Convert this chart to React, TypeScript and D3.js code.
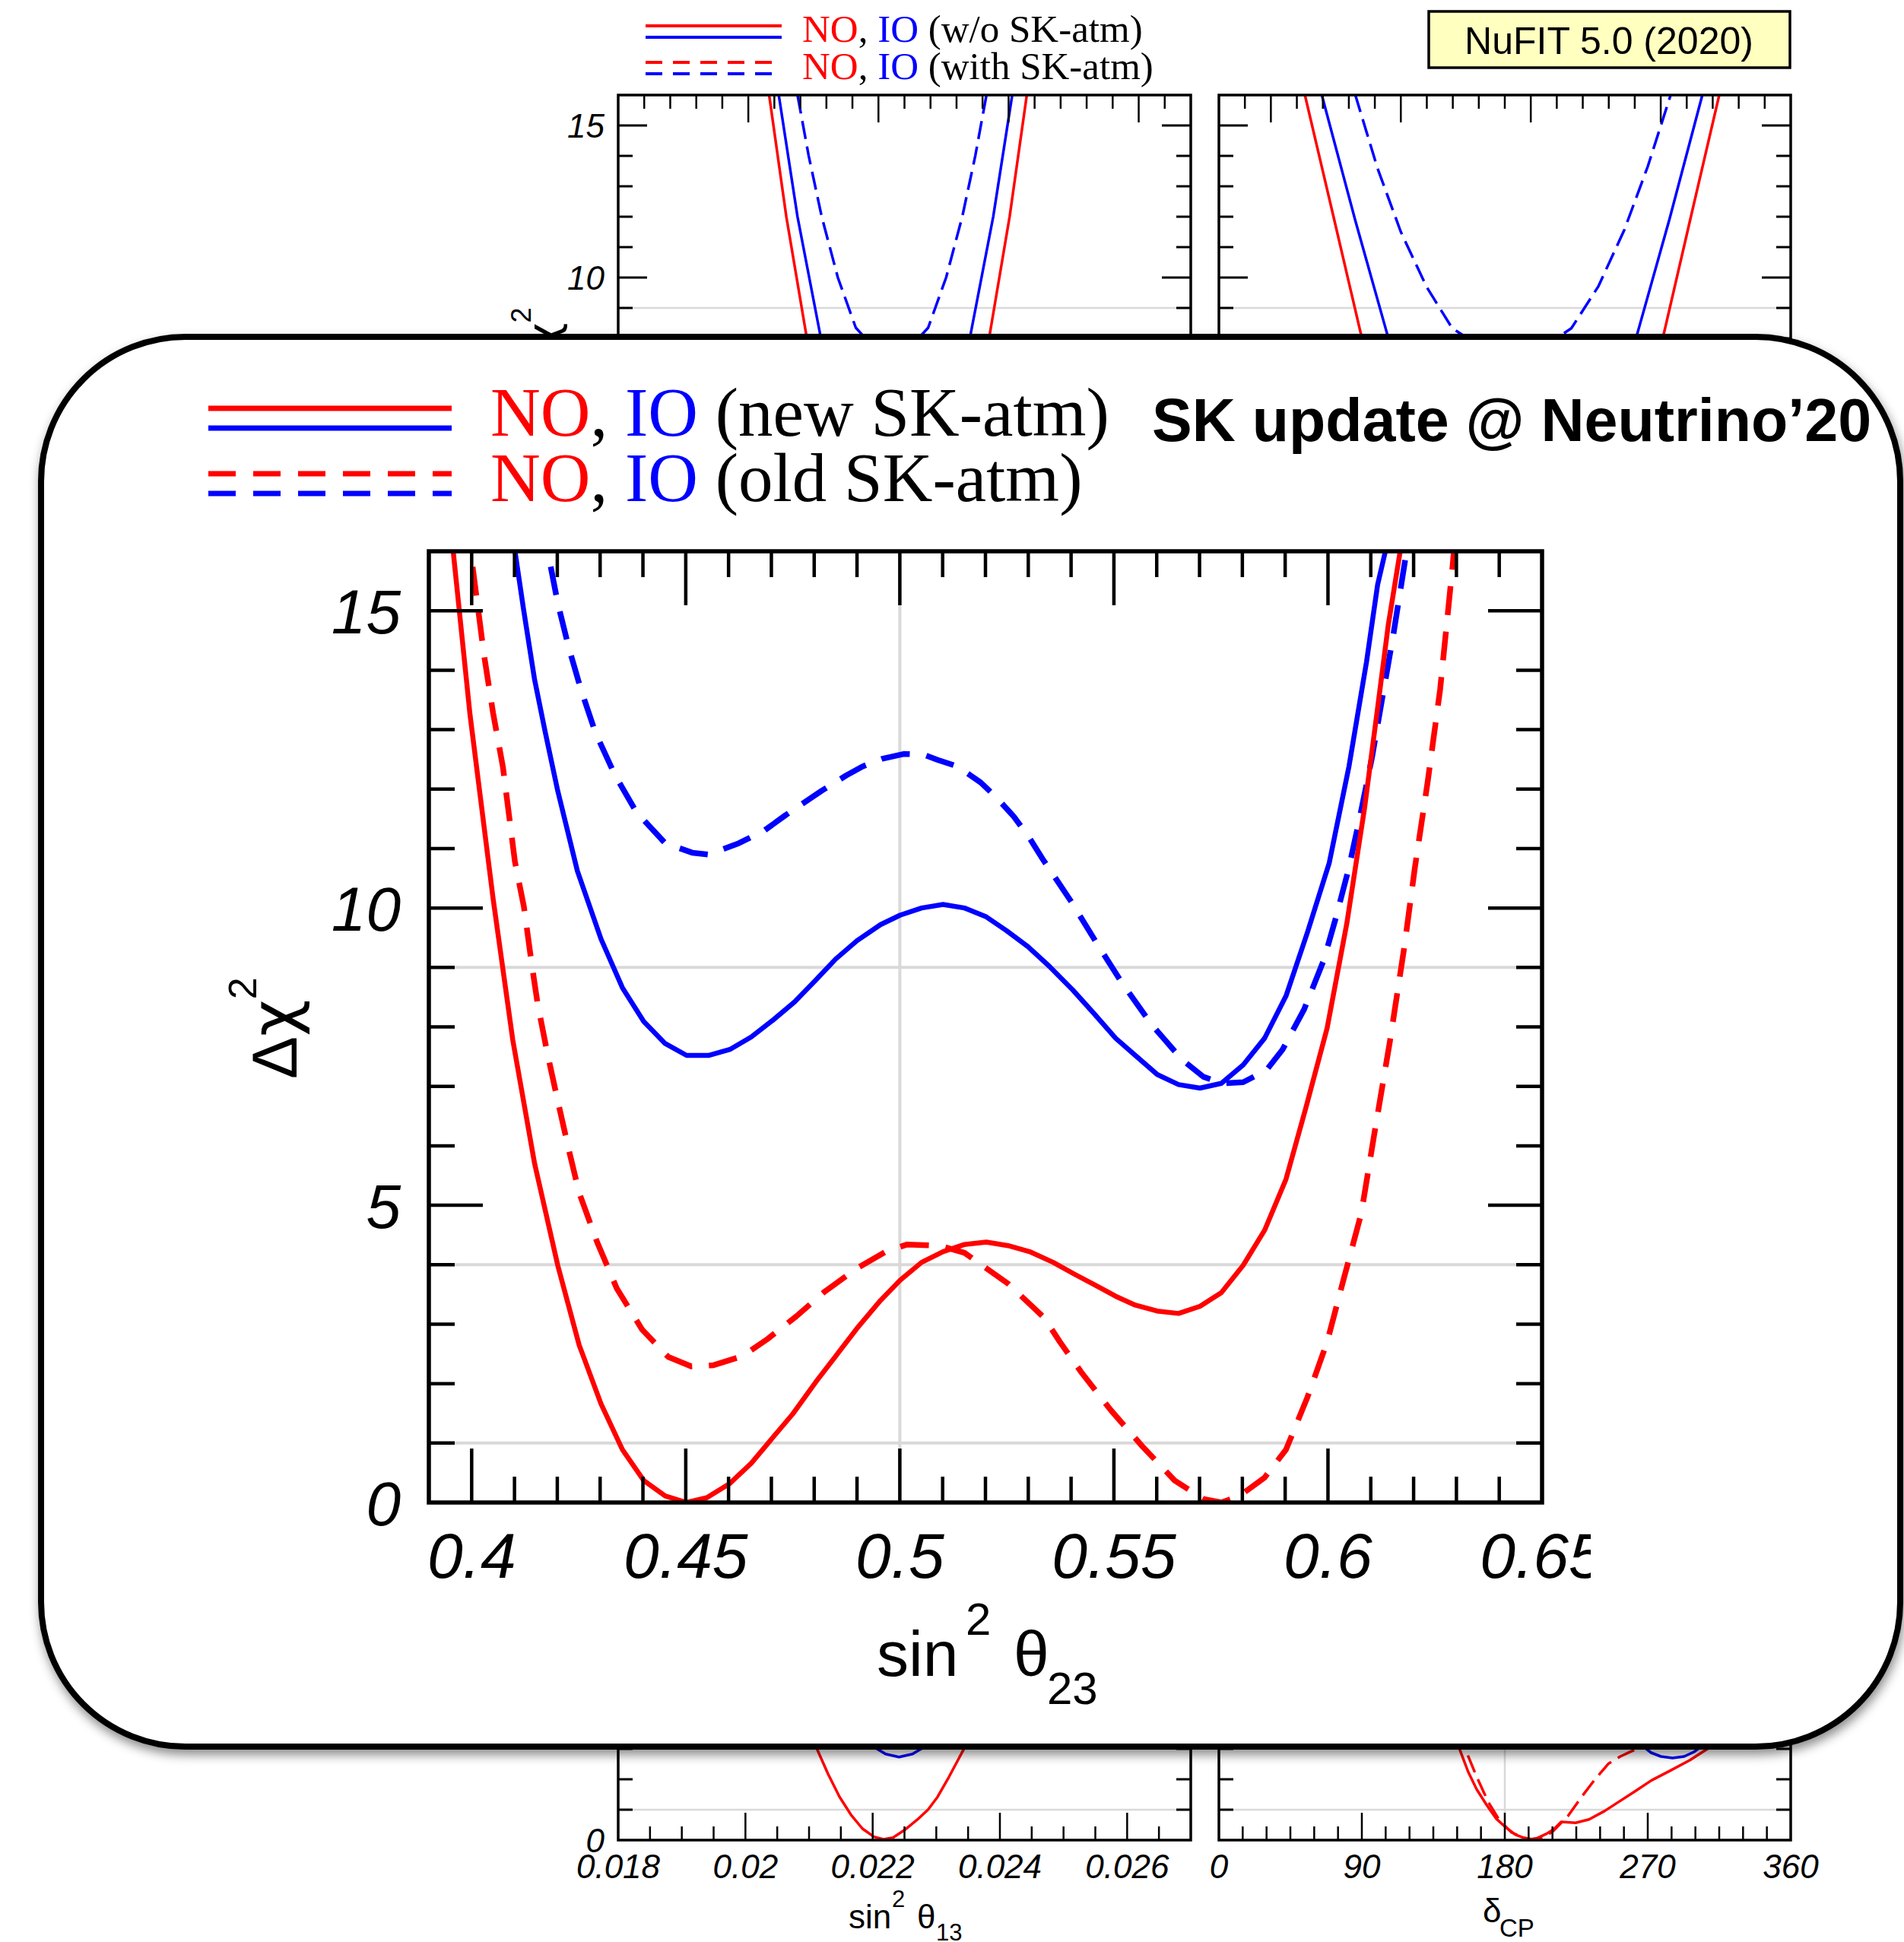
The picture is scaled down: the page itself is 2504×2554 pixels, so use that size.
import React from 'react';
import * as d3 from 'd3';

type Pt = [number, number];

const RED = '#ff0000';
const BLUE = '#0000ff';
const GRID = '#d9d9d9';
const SANS = "'Liberation Sans', Arial, Helvetica, sans-serif";
const SERIF = "'Liberation Serif', 'Times New Roman', Times, serif";
const GREEK = "'DejaVu Sans', 'Liberation Sans', sans-serif";

// ---------- main panel: sin^2 theta23 ----------
const th23NOnew: Pt[] = [
  [0.3950, 16.5], [0.3956, 16.06], [0.3996, 13.26], [0.4050, 10.16], [0.4096, 7.78], [0.4147, 5.70],
  [0.4201, 3.99], [0.4251, 2.65], [0.4302, 1.66], [0.4352, 0.89], [0.4402, 0.37], [0.4452, 0.11],
  [0.4502, 0.00], [0.4549, 0.08], [0.4603, 0.32], [0.4653, 0.66], [0.4703, 1.09], [0.4750, 1.49],
  [0.4804, 2.03], [0.4850, 2.46], [0.4900, 2.93], [0.4955, 3.40], [0.5001, 3.74], [0.5051, 4.04],
  [0.5101, 4.22], [0.5151, 4.34], [0.5202, 4.38], [0.5253, 4.32], [0.5303, 4.22], [0.5358, 4.04],
  [0.5408, 3.84], [0.5458, 3.65], [0.5504, 3.47], [0.5550, 3.32], [0.5601, 3.22], [0.5651, 3.18],
  [0.5701, 3.30], [0.5751, 3.53], [0.5802, 3.99], [0.5852, 4.58], [0.5902, 5.44], [0.5948, 6.63],
  [0.5998, 7.98], [0.6044, 9.74], [0.6086, 11.71], [0.6116, 13.37], [0.6141, 14.77], [0.6170, 16.06],
  [0.6175, 16.5],
];
const th23NOold: Pt[] = [
  [0.3990, 16.5], [0.3996, 16.10], [0.4002, 15.75], [0.4029, 14.25], [0.4050, 13.28], [0.4073, 12.37],
  [0.4101, 10.78], [0.4122, 10.02], [0.4140, 9.07], [0.4154, 8.39], [0.4177, 7.55], [0.4200, 6.79],
  [0.4227, 5.93], [0.4251, 5.21], [0.4293, 4.38], [0.4339, 3.60], [0.4398, 2.91], [0.4459, 2.45],
  [0.4513, 2.29], [0.4565, 2.31], [0.4632, 2.46], [0.4691, 2.75], [0.4758, 3.13], [0.4825, 3.55],
  [0.4900, 3.94], [0.4967, 4.22], [0.5017, 4.34], [0.5093, 4.32], [0.5151, 4.20], [0.5202, 3.94],
  [0.5253, 3.68], [0.5337, 3.11], [0.5374, 2.70], [0.5425, 2.18], [0.5492, 1.56], [0.5567, 0.94],
  [0.5642, 0.37], [0.5709, 0.06], [0.5751, 0.00], [0.5793, 0.11], [0.5852, 0.42], [0.5902, 0.89],
  [0.5952, 1.77], [0.5998, 2.70], [0.6036, 3.74], [0.6078, 4.87], [0.6111, 6.32], [0.6145, 7.77],
  [0.6178, 9.33], [0.6203, 10.68], [0.6233, 12.13], [0.6262, 13.68], [0.6291, 15.75], [0.6300, 16.5],
];
const th23IOnew: Pt[] = [
  [0.4095, 16.5], [0.4100, 16.06], [0.4121, 15.03], [0.4147, 13.84], [0.4172, 12.95], [0.4201, 11.97],
  [0.4247, 10.62], [0.4302, 9.48], [0.4352, 8.66], [0.4402, 8.09], [0.4452, 7.72], [0.4502, 7.52],
  [0.4553, 7.52], [0.4603, 7.62], [0.4653, 7.83], [0.4703, 8.11], [0.4754, 8.42], [0.4804, 8.79],
  [0.4850, 9.14], [0.4900, 9.45], [0.4955, 9.72], [0.5001, 9.88], [0.5051, 10.00], [0.5101, 10.06],
  [0.5151, 10.00], [0.5202, 9.85], [0.5249, 9.62], [0.5299, 9.35], [0.5349, 9.02], [0.5404, 8.62],
  [0.5454, 8.22], [0.5504, 7.81], [0.5550, 7.52], [0.5601, 7.20], [0.5651, 7.03], [0.5701, 6.97],
  [0.5751, 7.05], [0.5802, 7.36], [0.5852, 7.81], [0.5902, 8.52], [0.5952, 9.59], [0.6003, 10.76],
  [0.6049, 12.38], [0.6090, 14.14], [0.6116, 15.44], [0.6136, 16.06], [0.6142, 16.5],
];
const th23IOold: Pt[] = [
  [0.4170, 16.5], [0.4176, 16.06], [0.4201, 15.13], [0.4226, 14.40], [0.4255, 13.68], [0.4289, 12.95],
  [0.4335, 12.23], [0.4385, 11.61], [0.4452, 11.09], [0.4515, 10.93], [0.4553, 10.90], [0.4624, 11.09],
  [0.4683, 11.30], [0.4733, 11.56], [0.4817, 11.97], [0.4875, 12.23], [0.4913, 12.38], [0.4959, 12.51],
  [0.5009, 12.59], [0.5055, 12.58], [0.5089, 12.49], [0.5135, 12.38], [0.5189, 12.11], [0.5224, 11.87],
  [0.5266, 11.54], [0.5299, 11.22], [0.5333, 10.83], [0.5400, 10.11], [0.5458, 9.43], [0.5517, 8.76],
  [0.5588, 8.04], [0.5659, 7.45], [0.5709, 7.16], [0.5755, 7.05], [0.5802, 7.07], [0.5856, 7.27],
  [0.5894, 7.62], [0.5944, 8.29], [0.5990, 9.12], [0.6019, 9.85], [0.6049, 10.68], [0.6074, 11.51],
  [0.6103, 12.54], [0.6128, 13.58], [0.6153, 14.61], [0.6178, 15.75], [0.6185, 16.06], [0.6189, 16.5],
];
const mainXLabelValues = [0.4, 0.45, 0.5, 0.55, 0.6, 0.65];
const mainXLabelTexts = ['0.4', '0.45', '0.5', '0.55', '0.6', '0.65'];
const mainYLabelValues = [0, 5, 10, 15];
const gridLevels = [1, 4, 9];

// ---------- top-left panel: sin^2 theta12 ----------
const th12NOnew: Pt[] = [
  [0.2543, 18.5], [0.2580, 16], [0.2646, 12], [0.2725, 8], [0.2827, 4], [0.2951, 1], [0.3075, 0],
  [0.3199, 1], [0.3323, 4], [0.3425, 8], [0.3504, 12], [0.3570, 16], [0.3608, 18.5],
];
const th12IOnew: Pt[] = [
  [0.2577, 18.5], [0.2617, 16], [0.2689, 12], [0.2779, 8], [0.2872, 5], [0.3065, 2.51],
  [0.3258, 5], [0.3351, 8], [0.3441, 12], [0.3514, 16], [0.3553, 18.5],
];
const th12IOold: Pt[] = [
  [0.2642, 18.5], [0.2689, 16], [0.2732, 14], [0.2782, 12], [0.2844, 10], [0.2913, 8.35], [0.3052, 7.04],
  [0.3191, 8.35], [0.3260, 10], [0.3322, 12], [0.3372, 14], [0.3415, 16], [0.3462, 18.5],
];
// ---------- top-right panel: Delta m^2_21 ----------
const dm21NOnew: Pt[] = [
  [6.55, 19.3], [6.631, 16], [6.741, 12], [6.846, 8.16], [7.0, 4.4], [7.2, 1.3], [7.428, 0],
  [7.65, 1.25], [7.85, 4.3], [8.012, 8.16], [8.116, 12], [8.225, 16], [8.30, 19.1],
];
const dm21IOnew: Pt[] = [
  [6.60, 19.9], [6.696, 16], [6.824, 11.9], [6.947, 8.16], [7.15, 4.17], [7.428, 2.18],
  [7.70, 4.09], [7.910, 8.16], [8.033, 11.9], [8.160, 16], [8.26, 20.0],
];
const dm21IOold: Pt[] = [
  [6.72, 19.3], [6.825, 16], [6.91, 13.6], [7.0, 11.5], [7.10, 9.68], [7.198, 8.33], [7.429, 7.05],
  [7.656, 8.33], [7.76, 9.71], [7.86, 11.57], [7.95, 13.65], [8.038, 16], [8.14, 19.3],
];
// ---------- bottom-left panel: sin^2 theta13 ----------
const th13NOnew: Pt[] = [
  [0.0205, 6.4], [0.02112, 3.02], [0.02130, 2.17], [0.02148, 1.42], [0.02166, 0.83], [0.02184, 0.375],
  [0.02202, 0.108], [0.02217, 0.025], [0.02232, 0.083], [0.02250, 0.33], [0.02270, 0.67],
  [0.02287, 1.0], [0.02302, 1.42], [0.02320, 2.08], [0.02335, 2.67], [0.02344, 3.02], [0.0240, 6.85],
];
const th13IOnew: Pt[] = [
  [0.0215, 4.2], [0.022053, 3.02], [0.022203, 2.83], [0.022415, 2.73], [0.022626, 2.83],
  [0.022777, 3.02], [0.0234, 4.4],
];
const th13LabelValues = [0.018, 0.02, 0.022, 0.024, 0.026];
const th13LabelTexts = ['0.018', '0.02', '0.022', '0.024', '0.026'];
// ---------- bottom-right panel: delta_CP ----------
const dcpNOnew: Pt[] = [
  [120, 7.5], [140, 4.6], [151.3, 3.02], [156.9, 2.25], [162.3, 1.67], [168.4, 1.17], [174.5, 0.71],
  [180.6, 0.42], [186.7, 0.18], [192.8, 0.06], [196.5, 0.03], [200.2, 0.06], [206.3, 0.21],
  [211.1, 0.37], [215.5, 0.60], [224.6, 0.57], [233.1, 0.68], [242.9, 0.96], [252.7, 1.29],
  [262.4, 1.62], [272.2, 1.96], [284.4, 2.29], [296.6, 2.63], [311.3, 3.125], [330, 3.9], [360, 5.0],
];
const dcpNOold: Pt[] = [
  [120, 7.5], [140, 4.6], [154.9, 3.02], [162.3, 2.08], [169.6, 1.25], [177.0, 0.625], [184.3, 0.25],
  [191.6, 0.08], [197.7, 0.02], [203.8, 0.08], [209.9, 0.27], [219.7, 0.79], [228.3, 1.42],
  [236.8, 2.0], [245.4, 2.52], [252.7, 2.75], [260.0, 2.93], [266.1, 3.04], [280, 3.5], [300, 4.3],
  [330, 5.5], [360, 6.5],
];
const dcpIOnew: Pt[] = [
  [250, 5.0], [260, 3.7], [267.3, 3.07], [272.1, 2.875], [278.3, 2.75], [285.6, 2.70], [292.9, 2.75],
  [299.1, 2.9], [302.8, 3.04], [310, 3.7], [320, 4.8],
];
const dcpLabelValues = [0, 90, 180, 270, 360];

interface Series { data: Pt[]; color: string; dashed: boolean }

interface PanelProps {
  id: string;
  left: number; right: number; top: number; bottom: number;
  xDomain: [number, number];
  xMinor: number[]; xMajor: number[];
  vGrid?: number[];
  series: Series[];
  xLabels?: { v: number; t: string }[];
  yLabels?: number[];
}

function SmallPanel(p: PanelProps) {
  const x = d3.scaleLinear().domain(p.xDomain).range([p.left, p.right]);
  const y = d3.scaleLinear().domain([0, 16]).range([p.bottom, p.top]);
  const line = d3.line<Pt>().x((d) => x(d[0])).y((d) => y(d[1]));
  const yTicks = d3.range(1, 16);
  return (
    <g>
      <defs>
        <clipPath id={p.id}>
          <rect x={p.left} y={p.top} width={p.right - p.left} height={p.bottom - p.top} />
        </clipPath>
      </defs>
      {gridLevels.map((g) => (
        <line key={'h' + g} x1={p.left} x2={p.right} y1={y(g)} y2={y(g)} stroke={GRID} strokeWidth={2.5} />
      ))}
      {(p.vGrid || []).map((g) => (
        <line key={'v' + g} x1={x(g)} x2={x(g)} y1={p.top} y2={p.bottom} stroke={GRID} strokeWidth={2.5} />
      ))}
      <g clipPath={`url(#${p.id})`}>
        {p.series.map((s, i) => (
          <path key={i} d={line(s.data) || ''} fill="none" stroke={s.color} strokeWidth={3.5}
            strokeDasharray={s.dashed ? '24 10' : undefined} strokeLinejoin="round" />
        ))}
      </g>
      {p.xMinor.map((v) => {
        const L = p.xMajor.some((m) => Math.abs(m - v) < 1e-9) ? 36 : 18;
        return (
          <g key={'xt' + v}>
            <line x1={x(v)} x2={x(v)} y1={p.top} y2={p.top + L} stroke="#000" strokeWidth={2.5} />
            <line x1={x(v)} x2={x(v)} y1={p.bottom} y2={p.bottom - L} stroke="#000" strokeWidth={2.5} />
          </g>
        );
      })}
      {yTicks.map((v) => {
        const L = v % 5 === 0 ? 38 : 19;
        return (
          <g key={'yt' + v}>
            <line x1={p.left} x2={p.left + L} y1={y(v)} y2={y(v)} stroke="#000" strokeWidth={3} />
            <line x1={p.right} x2={p.right - L} y1={y(v)} y2={y(v)} stroke="#000" strokeWidth={3} />
          </g>
        );
      })}
      <rect x={p.left} y={p.top} width={p.right - p.left} height={p.bottom - p.top} fill="none" stroke="#000" strokeWidth={3.5} />
      {(p.yLabels || []).map((v) => (
        <text key={'yl' + v} x={p.left - 18} y={y(v) + 16} textAnchor="end" fontFamily={SANS}
          fontStyle="italic" fontSize={44}>{v}</text>
      ))}
      {(p.xLabels || []).map((l) => (
        <text key={'xl' + l.v} x={x(l.v)} y={p.bottom + 50} textAnchor="middle" fontFamily={SANS}
          fontStyle="italic" fontSize={44}>{l.t}</text>
      ))}
    </g>
  );
}

export default function App() {
  const L = 564, R = 2028, T = 725, B = 1976;
  const mx = d3.scaleLinear().domain([0.39, 0.65]).range([L, R]);
  const my = d3.scaleLinear().domain([0, 16]).range([B, T]);
  const mline = d3.line<Pt>().x((d) => mx(d[0])).y((d) => my(d[1]));
  const mainSeries: Series[] = [
    { data: th23NOold, color: RED, dashed: true },
    { data: th23IOold, color: BLUE, dashed: true },
    { data: th23NOnew, color: RED, dashed: false },
    { data: th23IOnew, color: BLUE, dashed: false },
  ];
  const xMinorMain = d3.range(40, 65);
  const yMinorMain = d3.range(1, 16);

  return (
    <svg width={2504} height={2554} viewBox="0 0 2504 2554"
      style={{ position: 'absolute', left: 0, top: 0, display: 'block', background: '#fff' }}>
      <defs>
        <filter id="boxShadow" x="-3%" y="-3%" width="106%" height="108%">
          <feDropShadow dx="2" dy="7" stdDeviation="7" floodColor="#000" floodOpacity="0.45" />
        </filter>
        <clipPath id="mainClip"><rect x={L} y={T} width={R - L} height={B - T} /></clipPath>
        <clipPath id="labelClip"><rect x={0} y={0} width={2092} height={2554} /></clipPath>
      </defs>
      <rect x={0} y={0} width={2504} height={2554} fill="#fff" />

      {/* background panels */}
      <SmallPanel id="p12" left={813} right={1566} top={125} bottom={765} xDomain={[0.2, 0.42]}
        xMinor={d3.range(21, 42).map((i) => i / 100)} xMajor={[0.25, 0.3, 0.35, 0.4]}
        series={[
          { data: th12IOold, color: BLUE, dashed: true },
          { data: th12IOnew, color: BLUE, dashed: false },
          { data: th12NOnew, color: RED, dashed: false },
        ]}
        yLabels={[0, 5, 10, 15]} />
      <SmallPanel id="p21" left={1603} right={2355} top={125} bottom={765} xDomain={[6.3, 8.5]}
        xMinor={d3.range(64, 85).map((i) => i / 10)} xMajor={[6.5, 7, 7.5, 8]}
        series={[
          { data: dm21IOold, color: BLUE, dashed: true },
          { data: dm21IOnew, color: BLUE, dashed: false },
          { data: dm21NOnew, color: RED, dashed: false },
        ]} />
      <SmallPanel id="p13" left={813} right={1566} top={1780} bottom={2420} xDomain={[0.018, 0.027]}
        xMinor={d3.range(37, 54).map((i) => i / 2000)} xMajor={[0.02, 0.022, 0.024, 0.026]}
        series={[
          { data: th13IOnew, color: BLUE, dashed: false },
          { data: th13NOnew, color: RED, dashed: false },
        ]}
        xLabels={th13LabelValues.map((v, i) => ({ v, t: th13LabelTexts[i] }))}
        yLabels={[0]} />
      <SmallPanel id="pcp" left={1603} right={2355} top={1780} bottom={2420} xDomain={[0, 360]}
        xMinor={d3.range(1, 24).map((i) => i * 15)} xMajor={[90, 180, 270]} vGrid={[180]}
        series={[
          { data: dcpIOnew, color: BLUE, dashed: false },
          { data: dcpNOold, color: RED, dashed: true },
          { data: dcpNOnew, color: RED, dashed: false },
        ]}
        xLabels={dcpLabelValues.map((v) => ({ v, t: String(v) }))} />

      {/* top row y-label (mostly hidden) */}
      <text transform="translate(734,450) rotate(-90)" textAnchor="middle" fontFamily={SANS} fontSize={57}>
        Δ<tspan fontFamily={GREEK}>χ</tspan><tspan dy={-36} fontSize={36}>2</tspan>
      </text>
      {/* bottom panel axis titles */}
      <text fontFamily={SANS} fontSize={44}>
        <tspan x={1116} y={2536}>sin</tspan>
        <tspan x={1173} y={2508} fontSize={31}>2</tspan>
        <tspan x={1206} y={2536}>θ</tspan>
        <tspan x={1231} y={2552} fontSize={31}>13</tspan>
      </text>
      <text fontFamily={SANS} fontSize={44}>
        <tspan x={1950} y={2528}>δ</tspan>
        <tspan x={1972} y={2547} fontSize={33}>CP</tspan>
      </text>

      {/* top legend */}
      <line x1={849} x2={1028} y1={34} y2={34} stroke={RED} strokeWidth={4} />
      <line x1={849} x2={1028} y1={49} y2={49} stroke={BLUE} strokeWidth={4} />
      <line x1={849} x2={1028} y1={82} y2={82} stroke={RED} strokeWidth={4} strokeDasharray="22 14" />
      <line x1={849} x2={1028} y1={97} y2={97} stroke={BLUE} strokeWidth={4} strokeDasharray="22 14" />
      <text x={1055} y={55} fontFamily={SERIF} fontSize={51}>
        <tspan fill={RED}>NO</tspan>, <tspan fill={BLUE}>IO</tspan> (w/o SK-atm)
      </text>
      <text x={1055} y={104} fontFamily={SERIF} fontSize={51}>
        <tspan fill={RED}>NO</tspan>, <tspan fill={BLUE}>IO</tspan> (with SK-atm)
      </text>
      <rect x={1879} y={15} width={475} height={74} fill="#ffffc0" stroke="#000" strokeWidth={3.5} />
      <text x={2116} y={71} textAnchor="middle" fontFamily={SANS} fontSize={50}>NuFIT 5.0 (2020)</text>

      {/* overlay box */}
      <rect x={54} y={443} width={2445} height={1854} rx={190} ry={190} fill="#fff" stroke="#000"
        strokeWidth={8} filter="url(#boxShadow)" />

      {/* main legend */}
      <line x1={274} x2={594} y1={537} y2={537} stroke={RED} strokeWidth={7} />
      <line x1={274} x2={594} y1={563} y2={563} stroke={BLUE} strokeWidth={7} />
      <line x1={274} x2={594} y1={623} y2={623} stroke={RED} strokeWidth={7} strokeDasharray="36 23" />
      <line x1={274} x2={594} y1={649} y2={649} stroke={BLUE} strokeWidth={7} strokeDasharray="36 23" />
      <text x={645} y={573} fontFamily={SERIF} fontSize={91}>
        <tspan fill={RED}>NO</tspan>, <tspan fill={BLUE}>IO</tspan> (new SK-atm)
      </text>
      <text x={645} y={659} fontFamily={SERIF} fontSize={91}>
        <tspan fill={RED}>NO</tspan>, <tspan fill={BLUE}>IO</tspan> (old SK-atm)
      </text>
      <text x={1515} y={580} fontFamily={SANS} fontWeight="bold" fontSize={79}>SK update @ Neutrino’20</text>

      {/* main plot */}
      {gridLevels.map((g) => (
        <line key={'mg' + g} x1={L} x2={R} y1={my(g)} y2={my(g)} stroke={GRID} strokeWidth={4} />
      ))}
      <line x1={mx(0.5)} x2={mx(0.5)} y1={T} y2={B} stroke={GRID} strokeWidth={4} />
      <g clipPath="url(#mainClip)">
        {mainSeries.map((s, i) => (
          <path key={i} d={mline(s.data) || ''} fill="none" stroke={s.color} strokeWidth={s.dashed ? 7.5 : 6.5}
            strokeDasharray={s.dashed ? '38 22' : undefined} strokeLinejoin="round" />
        ))}
      </g>
      {xMinorMain.map((i) => {
        const v = i / 100;
        const len = i % 5 === 0 ? 71 : 34;
        return (
          <g key={'mxt' + i}>
            <line x1={mx(v)} x2={mx(v)} y1={T} y2={T + len} stroke="#000" strokeWidth={4.5} />
            <line x1={mx(v)} x2={mx(v)} y1={B} y2={B - len} stroke="#000" strokeWidth={4.5} />
          </g>
        );
      })}
      {yMinorMain.map((v) => {
        const len = v % 5 === 0 ? 71 : 34;
        return (
          <g key={'myt' + v}>
            <line x1={L} x2={L + len} y1={my(v)} y2={my(v)} stroke="#000" strokeWidth={4.5} />
            <line x1={R} x2={R - len} y1={my(v)} y2={my(v)} stroke="#000" strokeWidth={4.5} />
          </g>
        );
      })}
      <rect x={L} y={T} width={R - L} height={B - T} fill="none" stroke="#000" strokeWidth={5.5} />
      {mainYLabelValues.map((v) => (
        <text key={'myl' + v} x={527} y={my(v) + 30} textAnchor="end" fontFamily={SANS} fontStyle="italic"
          fontSize={82}>{v}</text>
      ))}
      <g clipPath="url(#labelClip)">
        {mainXLabelValues.map((v, i) => (
          <text key={'mxl' + v} x={mx(v)} y={2075} textAnchor="middle" fontFamily={SANS} fontStyle="italic"
            fontSize={84}>{mainXLabelTexts[i]}</text>
        ))}
      </g>
      <text transform="translate(390,1419) rotate(-90)" fontFamily={SANS} fontSize={84}>
        Δ<tspan fontFamily={GREEK}>χ</tspan><tspan dy={-53} fontSize={52}>2</tspan>
      </text>
      <text fontFamily={SANS} fontSize={84}>
        <tspan x={1153} y={2204}>sin</tspan>
        <tspan x={1270} y={2150} fontSize={60}>2</tspan>
        <tspan x={1333} y={2204}>θ</tspan>
        <tspan x={1377} y={2241} fontSize={60}>23</tspan>
      </text>
    </svg>
  );
}
